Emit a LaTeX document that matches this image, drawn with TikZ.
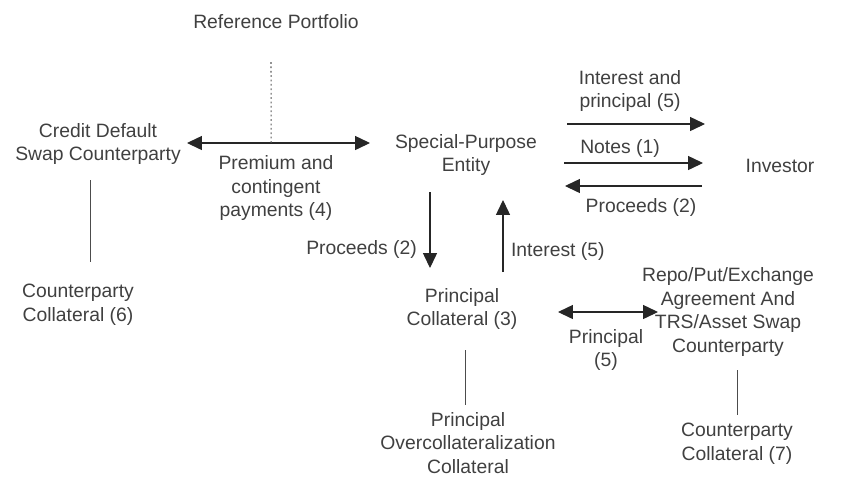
\documentclass[tikz,border=0pt]{standalone}
\usepackage{fontspec}
\setmainfont{Liberation Sans}
\usetikzlibrary{arrows.meta,calc}

\begin{document}
\begin{tikzpicture}[x=0.02cm,y=-0.02cm]
    \tikzset{
      txtnode/.style={align=center,inner sep=1pt,text=black!75,font=\fontsize{11}{13.5}\selectfont},
      arrowlabel/.style={txtnode},
      arrow/.style={-{Triangle[length=8.5pt,width=8pt]},draw=black!85,line width=0.6pt},
      dblarrow/.style={arrow,{Triangle[length=8.5pt,width=8pt]}-{Triangle[length=8.5pt,width=8pt]}},
      link/.style={draw=black!70,line width=0.5pt},
      refline/.style={draw=black!65,line width=0.6pt,dash pattern=on 1pt off 1.5pt}
    }
    \useasboundingbox (0,0) rectangle (849,478);

    \node[txtnode](refport) at (276,22){Reference Portfolio};
    \node[txtnode](cdscp) at (98,144){Credit Default\\Swap Counterparty};
    \node[txtnode](spe) at (466,155){Special-Purpose\\Entity};
    \node[txtnode](investor) at (780,166){Investor};
    \node[txtnode](princoll) at (462,309){Principal\\Collateral (3)};
    \node[txtnode](overcoll) at (468,443){Principal\\Overcollateralization\\Collateral};
    \node[txtnode](repo) at (728,312){Repo/Put/Exchange\\Agreement And\\TRS/Asset Swap\\Counterparty};
    \node[txtnode](cpcollsix) at (78,305){Counterparty\\Collateral (6)};
    \node[txtnode](cpcollseven) at (737,444){Counterparty\\Collateral (7)};

    \node[arrowlabel](premlabel) at (276,188){Premium and\\contingent\\payments (4)};
    \node[arrowlabel](intprinlabel) at (630,91){Interest and\\principal (5)};
    \node[arrowlabel](noteslabel) at (620,148){Notes (1)};
    \node[arrowlabel](procinvlabel) at (641,207){Proceeds (2)};
    \node[arrowlabel,anchor=east](procdownlabel) at (419,249){Proceeds (2)};
    \node[arrowlabel,anchor=west](intuplabel) at (509,251){Interest (5)};
    \node[arrowlabel](princlabel) at (606,350){Principal\\(5)};

    \draw[dblarrow]($(cdscp.center)+(89,-1)$) -- coordinate[pos=0.46](prem) ($(spe.center)+(-96,-12)$);
    \draw[refline]($(refport.center)+(-5,40)$) -- (prem);
    \draw[link]($(cdscp.center)+(-8,36)$) -- ($(cpcollsix.center)+(12,-43)$);

    \draw[arrow]($(spe.center)+(101,-31)$) -- ($(investor.center)+(-75,-42)$);
    \draw[arrow]($(spe.center)+(98,8)$) -- ($(investor.center)+(-77,-3)$);
    \draw[arrow]($(investor.center)+(-78,20)$) -- ($(spe.center)+(99,31)$);

    \draw[arrow]($(spe.center)+(-36,37)$) -- ($(princoll.center)+(-32,-41)$);
    \draw[arrow]($(princoll.center)+(41,-37)$) -- ($(spe.center)+(37,45)$);
    \draw[link]($(princoll.center)+(3,41)$) -- ($(overcoll.center)+(-3,-38)$);

    \draw[dblarrow]($(princoll.center)+(96,3)$) -- ($(repo.center)+(-70,0)$);
    \draw[link]($(repo.center)+(9,58)$) -- ($(cpcollseven.center)+(0,-29)$);

  \end{tikzpicture}
\end{document}
